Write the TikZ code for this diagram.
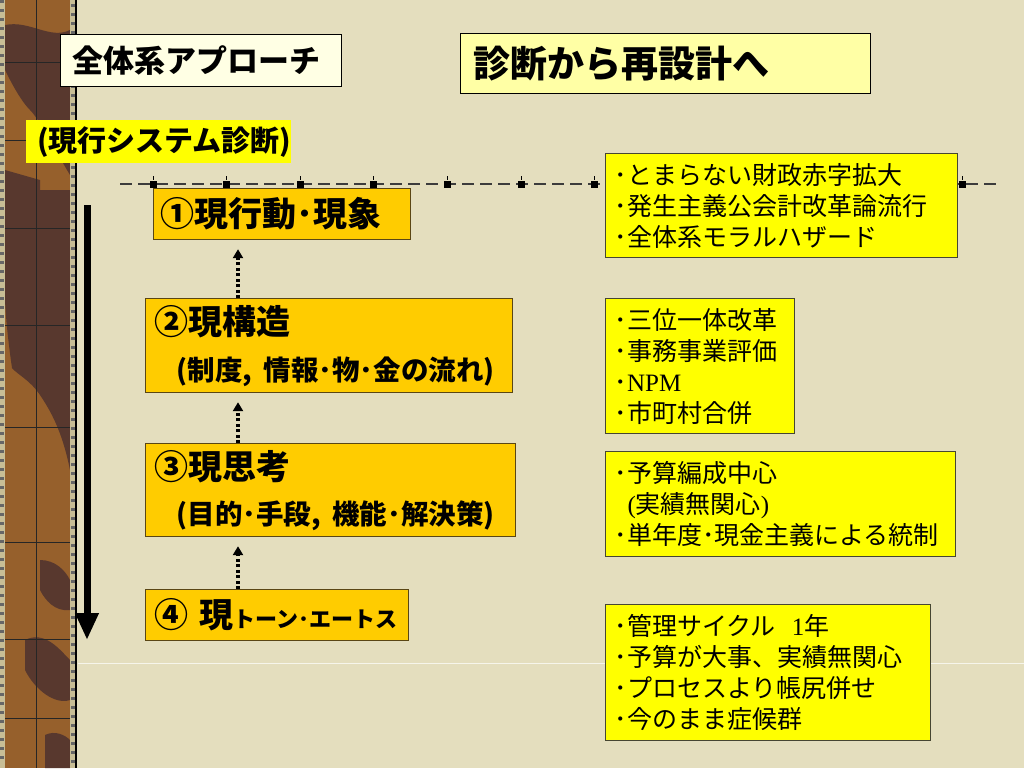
\documentclass[tikz,border=0pt]{standalone}
\usepackage{fontspec}
\setmainfont{Noto Sans CJK JP}
\newfontfamily\serif{Liberation Serif}
\usetikzlibrary{arrows.meta}
\definecolor{bg}{RGB}{228,222,190}
\definecolor{barlight}{RGB}{150,96,44}
\definecolor{bardark}{RGB}{88,56,46}
\definecolor{strip}{RGB}{200,190,150}
\definecolor{orangebox}{RGB}{255,204,0}
\definecolor{orangeedge}{RGB}{90,70,20}
\definecolor{yelbox}{RGB}{255,255,0}
\definecolor{yeledge}{RGB}{70,70,50}
\definecolor{cream}{RGB}{255,255,228}
\definecolor{paleyel}{RGB}{255,255,165}
\definecolor{dashcol}{RGB}{60,60,60}
\tikzset{
  box/.style={anchor=north west, inner ysep=0pt, align=left},
  titlebox/.style={box, draw=black, line width=1pt, font=\bfseries},
  stepbox/.style={box, fill=orangebox, draw=orangeedge, line width=1.2pt, font=\bfseries},
  notebox/.style={box, fill=yelbox, draw=yeledge, line width=1.2pt, inner xsep=9pt,
     font=\fontsize{25}{31}\selectfont},
  dotarrow/.style={line width=3.5pt, dash pattern=on 3pt off 2.5pt,
     -{Triangle[width=10pt,length=9pt]}, shorten >=9pt},
}
\begin{document}
\begin{tikzpicture}[x=1pt,y=-1pt]
\useasboundingbox (0,0) rectangle (1024,768);
\fill[bg] (0,0) rectangle (1024,768);

% left textured bar
\fill[barlight] (0,0) rectangle (75,768);
\fill[bardark] (5,25) .. controls (30,20) and (50,40) .. (70,30) -- (70,175)
   .. controls (55,150) and (40,120) .. (30,110) .. controls (20,100) and (10,80) .. (5,70) -- cycle;
\fill[bardark] (5,190) -- (70,190) -- (70,470) .. controls (62,430) and (50,410) .. (40,395)
   .. controls (30,380) and (18,375) .. (12,368) .. controls (8,340) and (6,320) .. (5,300) -- cycle;
\fill[bardark] (5,170) -- (40,180) -- (40,200) -- (5,200) -- cycle;
\fill[bardark] (40,560) .. controls (55,560) and (65,570) .. (70,580) -- (70,610)
   .. controls (55,612) and (45,600) .. (40,590) -- cycle;
\fill[bardark] (25,640) .. controls (45,630) and (60,650) .. (70,660) -- (70,700)
   .. controls (55,705) and (35,690) .. (25,670) -- cycle;
\fill[bardark] (45,735) .. controls (55,730) and (65,735) .. (70,740) -- (70,768) -- (45,768) -- cycle;
\fill[strip] (0,0) rectangle (5,768);
\fill[strip] (70,0) rectangle (75,768);
\foreach \t in {0,9,...,760} {
  \fill[black!60] (0,\t) rectangle (4,\t+3);
  \fill[black!60] (71,\t+4) rectangle (75,\t+7);
}
\draw[black!85, line width=1pt] (36,0) -- (36,768);
\foreach \t in {62,140,228,325,427,542,639,718}
  \draw[black!85, line width=1pt] (5,\t) -- (70,\t);
\draw[black, line width=2pt] (76,0) -- (76,768);

% faint white line
\coordinate (wl) at (78,663);
\coordinate (wr) at (1024,663);
\draw[white, opacity=0.7, line width=1pt] (wl) -- (wr);

% dashed line with square marks
\coordinate (dl) at (120,184);
\coordinate (dr) at (1000,184);
\draw[dashcol, line width=1.5pt, dash pattern=on 12pt off 6pt] (dl) -- (dr);
\foreach \k in {0,...,11} {
  \fill[black] ({153+73.6*\k-3.5},180.5) rectangle ++(7,7);
  \draw[black, line width=0.8pt] ({153+73.6*\k},176) -- ({153+73.6*\k},180);
}

% titles
\node[titlebox, fill=cream, inner xsep=12pt, text width=257pt, minimum height=52pt,
      font=\bfseries\fontsize{31}{36}\selectfont] (t1) at (60,34) {全体系アプローチ};
\node[titlebox, fill=paleyel, inner xsep=13pt, text width=384pt, minimum height=60pt,
      font=\bfseries\fontsize{37}{42}\selectfont] (t2) at (460,33) {診断から再設計へ};
\node[box, fill=yelbox, inner xsep=11pt, text width=243pt, minimum height=43pt,
      font=\bfseries\fontsize{29}{34}\selectfont] (sub) at (26,120) {(現行システム診断)};

% step boxes
\node[stepbox, inner xsep=7pt, text width=243pt, minimum height=51pt,
      font=\bfseries\fontsize{34}{40}\selectfont] (b1) at (153,188) {①現行動･現象};
\node[stepbox, inner xsep=9pt, text width=349pt, minimum height=94pt,
      font=\bfseries\fontsize{34}{46}\selectfont] (b2) at (145,298)
      {②現構造\\{\fontsize{27.5}{46}\selectfont\hspace*{22pt}(制度, 情報･物･金の流れ)}};
\node[stepbox, inner xsep=9pt, text width=352pt, minimum height=93pt,
      font=\bfseries\fontsize{34}{45}\selectfont] (b3) at (145,443)
      {③現思考\\{\fontsize{27.5}{45}\selectfont\hspace*{22pt}(目的･手段, 機能･解決策)}};
\node[stepbox, inner xsep=9pt, text width=245pt, minimum height=51pt,
      font=\bfseries\fontsize{34}{40}\selectfont] (b4) at (145,589)
      {④ 現{\fontsize{22}{40}\selectfont トーン･エートス}};

% note boxes
\node[notebox, text width=334pt, minimum height=104pt] (r1) at (605,153)
  {･とまらない財政赤字拡大\\･発生主義公会計改革論流行\\･全体系モラルハザード};
\node[notebox, text width=171pt, minimum height=135pt] (r2) at (605,298)
  {･三位一体改革\\･事務事業評価\\･{\serif NPM}\\･市町村合併};
\node[notebox, text width=332pt, minimum height=105pt] (r3) at (605,451)
  {･予算編成中心\\\hspace*{13pt}{\serif(}実績無関心{\serif)}\\･単年度･現金主義による統制};
\node[notebox, text width=307pt, minimum height=136pt] (r4) at (605,604)
  {･管理サイクル\hspace{16pt}{\serif 1}年\\･予算が大事、実績無関心\\･プロセスより帳尻併せ\\･今のまま症候群};

% dotted arrows
\coordinate (ax) at (238,0);
\draw[dotarrow] (ax |- b2.north) -- (ax |- b1.south);
\draw[dotarrow] (ax |- b3.north) -- (ax |- b2.south);
\draw[dotarrow] (ax |- b4.north) -- (ax |- b3.south);

% big downward arrow
\coordinate (bs) at (87,205);
\coordinate (be) at (87,640);
\draw[black, line width=7pt, -{Triangle[width=22pt,length=27pt]}] (bs) -- (be);
\end{tikzpicture}
\end{document}
